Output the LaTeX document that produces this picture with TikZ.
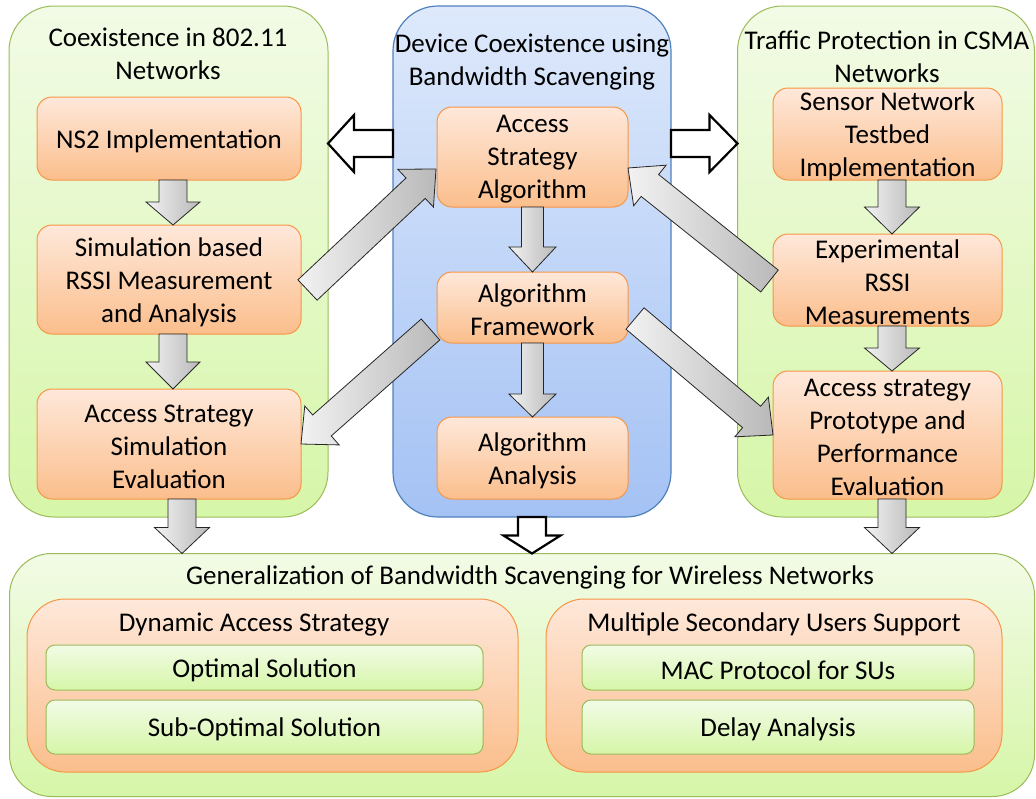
\documentclass[tikz,border=0pt]{standalone}
\usepackage{fontspec}
\setmainfont{Carlito}
\usetikzlibrary{calc}
\definecolor{grnB}{RGB}{155,187,89}
\definecolor{grnT}{RGB}{242,251,230}
\definecolor{grnBot}{RGB}{214,246,168}
\definecolor{bluB}{RGB}{79,129,189}
\definecolor{bluT}{RGB}{222,233,251}
\definecolor{bluBot}{RGB}{164,194,244}
\definecolor{orB}{RGB}{247,150,70}
\definecolor{orT}{RGB}{254,232,218}
\definecolor{orBot}{RGB}{251,190,140}
\definecolor{gryL}{RGB}{242,242,242}
\definecolor{gryD}{RGB}{185,185,185}
\newcommand{\blkarrow}[6]{%
  \coordinate (ba-base) at ($(#3)!#6!(#2)$);
  \draw[#1] ($(#2)!#4!90:(#3)$) -- ($(ba-base)!#4!90:(#3)$) -- ($(ba-base)!#5!90:(#3)$) -- (#3) -- ($(ba-base)!#5!-90:(#3)$) -- ($(ba-base)!#4!-90:(#3)$) -- ($(#2)!#4!-90:(#3)$) -- cycle;
}
\begin{document}
\begin{tikzpicture}[x=1pt,y=-1pt,
  every node/.style={inner sep=0pt, outer sep=0pt},
  txt/.style={align=center, font=\fontsize{27}{33}\selectfont, yshift=-2.5pt},
  gpanel/.style={draw=grnB, line width=1pt, top color=grnT, bottom color=grnBot},
  bpanel/.style={draw=bluB, line width=1.2pt, top color=bluT, bottom color=bluBot},
  obox/.style={draw=orB, line width=1pt, top color=orT, bottom color=orBot, rounded corners=15pt},
  gbox/.style={draw=grnB, line width=1pt, top color=grnT, bottom color=grnBot, rounded corners=9pt},
  garrow/.style={draw=black!85, line width=0.8pt, line join=miter, left color=gryL, right color=gryD},
  harrow/.style={draw=black, line width=2.2pt, line join=miter, fill=white},
]
\useasboundingbox (0,0) rectangle (1036,798);
% panels
\node[gpanel, rounded corners=45pt, minimum width=319pt, minimum height=511pt] (lp) at (168.5,261.5) {};
\node[bpanel, rounded corners=45pt, minimum width=278pt, minimum height=511pt] (cp) at (532,261.5) {};
\node[gpanel, rounded corners=45pt, minimum width=297pt, minimum height=511pt] (rp) at (886,261.5) {};
\node[gpanel, rounded corners=42pt, minimum width=1025pt, minimum height=243pt] (bp) at (522,675) {};
% titles
\node[txt] (lpt) at (168,51) {Coexistence in 802.11\\Networks};
\node[txt] (cpt) at (532,60) {Device Coexistence using\\Bandwidth Scavenging};
\node[txt] (rpt) at (887,54) {Traffic Protection in CSMA\\Networks};
\node[txt] (bpt) at (530,575) {Generalization of Bandwidth Scavenging for Wireless Networks};
% left boxes
\node[obox, minimum width=264pt, minimum height=83pt] (ns2) at (169,138.5) {};
\node[txt] (ns2t) at (ns2) {NS2 Implementation};
\node[obox, minimum width=264pt, minimum height=109pt] (sim) at (169,279.5) {};
\node[txt] (simt) at (sim) {Simulation based\\RSSI Measurement\\and Analysis};
\node[obox, minimum width=264pt, minimum height=110pt] (asse) at (169,444) {};
\node[txt] (asset) at (asse) {Access Strategy\\Simulation\\Evaluation};
% center boxes
\node[obox, minimum width=191pt, minimum height=100pt] (asa) at (532.5,157) {};
\node[txt] (asat) at (asa) {Access\\Strategy\\Algorithm};
\node[obox, minimum width=191pt, minimum height=71pt] (af) at (532.5,307.5) {};
\node[txt] (aft) at (af) {Algorithm\\Framework};
\node[obox, minimum width=191pt, minimum height=82pt] (aa) at (532.5,458) {};
\node[txt] (aat) at (aa) {Algorithm\\Analysis};
% right boxes
\node[obox, minimum width=229pt, minimum height=92pt] (snti) at (887.5,134) {};
\node[txt] (sntit) at (snti) {Sensor Network\\Testbed\\Implementation};
\node[obox, minimum width=229pt, minimum height=92pt] (erm) at (887.5,280) {};
\node[txt] (ermt) at (erm) {Experimental\\RSSI\\Measurements};
\node[obox, minimum width=229pt, minimum height=128pt] (appe) at (887.5,435) {};
\node[txt] (appet) at (appe) {Access strategy\\Prototype and\\Performance\\Evaluation};
% bottom boxes
\node[obox, rounded corners=38pt, minimum width=491pt, minimum height=173pt] (lo) at (272.5,685.5) {};
\node[txt] (lot) at (254,622) {Dynamic Access Strategy};
\node[gbox, minimum width=437pt, minimum height=45pt] (lo1) at (264.5,667.5) {};
\node[txt] (lo1t) at (lo1) {Optimal Solution};
\node[gbox, minimum width=437pt, minimum height=54pt] (lo2) at (264.5,727) {};
\node[txt] (lo2t) at (lo2) {Sub-Optimal Solution};
\node[obox, rounded corners=38pt, minimum width=456pt, minimum height=173pt] (ro) at (774,685.5) {};
\node[txt] (rot) at (774,622) {Multiple Secondary Users Support};
\node[gbox, minimum width=392pt, minimum height=45pt] (ro1) at (778,667.5) {};
\node[txt] (ro1t) at (ro1) {MAC Protocol for SUs};
\node[gbox, minimum width=392pt, minimum height=54pt] (ro2) at (778,727) {};
\node[txt] (ro2t) at (ro2) {Delay Analysis};
% coordinates for connectors
\coordinate (a1s) at ($(ns2.south)+(4,0)$);
\coordinate (a1e) at ($(sim.north)+(4,0)$);
\coordinate (a2s) at ($(sim.south)+(4,0)$);
\coordinate (a2e) at ($(asse.north)+(4,0)$);
\coordinate (a3s) at ($(asse.south)+(13,0)$);
\coordinate (a3e) at (a3s |- bp.north);
\coordinate (c1s) at (asa.south);
\coordinate (c1e) at (af.north);
\coordinate (c2s) at (af.south);
\coordinate (c2e) at (aa.north);
\coordinate (r1s) at ($(snti.south)+(4.5,0)$);
\coordinate (r1e) at ($(erm.north)+(4.5,0)$);
\coordinate (r2s) at ($(erm.south)+(4.5,0)$);
\coordinate (r2e) at ($(appe.north)+(4.5,0)$);
\coordinate (r3s) at ($(appe.south)+(4.5,0)$);
\coordinate (r3e) at (r3s |- bp.north);
\coordinate (h1s) at (cp.west |- 0,143.5);
\coordinate (h1e) at (lp.east |- 0,143.5);
\coordinate (h2s) at (cp.east |- 0,143.5);
\coordinate (h2e) at (rp.west |- 0,143.5);
\coordinate (h3s) at (cp.south);
\coordinate (h3e) at (cp.south |- bp.north);
\coordinate (d1s) at ($(sim.east)+(6.5,10.5)$);
\coordinate (d1e) at ($(asa.west)+(-1,12)$);
\coordinate (d2s) at ($(erm.west)+(-3.5,1)$);
\coordinate (d2e) at ($(asa.east)+(0,11)$);
\coordinate (d3s) at ($(af.west)+(-6.5,22)$);
\coordinate (d3e) at (asse.east);
\coordinate (d4s) at ($(af.east)+(7,11)$);
\coordinate (d4e) at (appe.west);
% hollow arrows
\blkarrow{harrow}{h1s}{h1e}{13.5pt}{28.5pt}{26pt}
\blkarrow{harrow}{h2s}{h2e}{13.5pt}{28.5pt}{28pt}
\blkarrow{harrow}{h3s}{h3e}{14pt}{28.5pt}{18pt}
% gray vertical arrows
\blkarrow{garrow}{a1s}{a1e}{14pt}{27pt}{23pt}
\blkarrow{garrow}{a2s}{a2e}{14pt}{27pt}{27pt}
\blkarrow{garrow}{a3s}{a3e}{14pt}{27.5pt}{26pt}
\blkarrow{garrow}{c1s}{c1e}{11pt}{23.5pt}{25pt}
\blkarrow{garrow}{c2s}{c2e}{11pt}{23.5pt}{23pt}
\blkarrow{garrow}{r1s}{r1e}{14pt}{27.5pt}{27pt}
\blkarrow{garrow}{r2s}{r2e}{14pt}{27.5pt}{23pt}
\blkarrow{garrow}{r3s}{r3e}{14pt}{27.5pt}{26pt}
% diagonal arrows
\blkarrow{garrow}{d1s}{d1e}{14pt}{26pt}{28pt}
\blkarrow{garrow}{d2s}{d2e}{14pt}{26pt}{28pt}
\blkarrow{garrow}{d3s}{d3e}{14pt}{26pt}{28pt}
\blkarrow{garrow}{d4s}{d4e}{14pt}{26pt}{28pt}
\end{tikzpicture}
\end{document}
